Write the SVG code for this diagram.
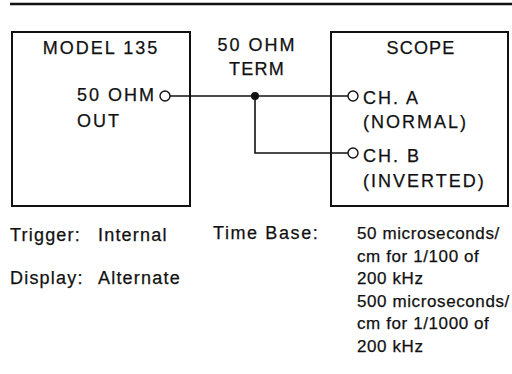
<svg xmlns="http://www.w3.org/2000/svg" width="512" height="374" viewBox="0 0 512 374">
<style>
  text { font-family: "Liberation Sans", Arial, sans-serif; font-size: 18px; fill: #111; stroke: #111; stroke-width: 0.25; }
  .box { fill: none; stroke: #111; stroke-width: 2; }
  .wire { fill: none; stroke: #111; stroke-width: 1.6; }
  .port { fill: #fff; stroke: #111; stroke-width: 1.4; }
  .ls2 { letter-spacing: 2px; }
  .ls1 { letter-spacing: 1.2px; }
  .col { letter-spacing: 0.6px; font-size: 17px; }
</style>
<rect width="512" height="374" fill="#fff"/>
<line x1="10" y1="4" x2="512" y2="4" stroke="#111" stroke-width="2.5"/>

<g id="model135">
  <rect class="box" x="12" y="32" width="178" height="174"/>
  <text x="101" y="54" text-anchor="middle" class="ls2">MODEL 135</text>
  <text x="77" y="101" class="ls2">50 OHM</text>
  <text x="77" y="127" class="ls2">OUT</text>
</g>

<g id="term">
  <text x="257" y="51" text-anchor="middle" class="ls2">50 OHM</text>
  <text x="257" y="75" text-anchor="middle" class="ls1">TERM</text>
</g>

<g id="scope">
  <rect class="box" x="331" y="32" width="177" height="174"/>
  <text x="421" y="54" text-anchor="middle" class="ls1">SCOPE</text>
  <text x="363" y="104" class="ls2">CH. A</text>
  <text x="363" y="128" class="ls2">(NORMAL)</text>
  <text x="363" y="162" class="ls2">CH. B</text>
  <text x="363" y="187" class="ls2">(INVERTED)</text>
</g>

<g id="connectors">
  <path class="wire" d="M170 96 H348"/>
  <path class="wire" d="M255 96 V153 H348"/>
  <circle cx="255" cy="96" r="4" fill="#111"/>
  <circle class="port" cx="165" cy="96" r="5"/>
  <circle class="port" cx="353" cy="96" r="5"/>
  <circle class="port" cx="353" cy="153" r="5"/>
</g>

<g id="settings">
  <text x="10" y="241" class="ls1">Trigger:</text>
  <text x="98" y="241" class="ls1">Internal</text>
  <text x="10" y="284" class="ls1">Display:</text>
  <text x="98" y="284" class="ls1">Alternate</text>
  <text x="213" y="239" class="ls1" style="letter-spacing:1.6px">Time Base:</text>
  <text x="357" y="239" class="col">50 microseconds/</text>
  <text x="357" y="261.5" class="col">cm for 1/100 of</text>
  <text x="357" y="284" class="col">200 kHz</text>
  <text x="357" y="306.5" class="col">500 microseconds/</text>
  <text x="357" y="329" class="col">cm for 1/1000 of</text>
  <text x="357" y="351.5" class="col">200 kHz</text>
</g>
</svg>
